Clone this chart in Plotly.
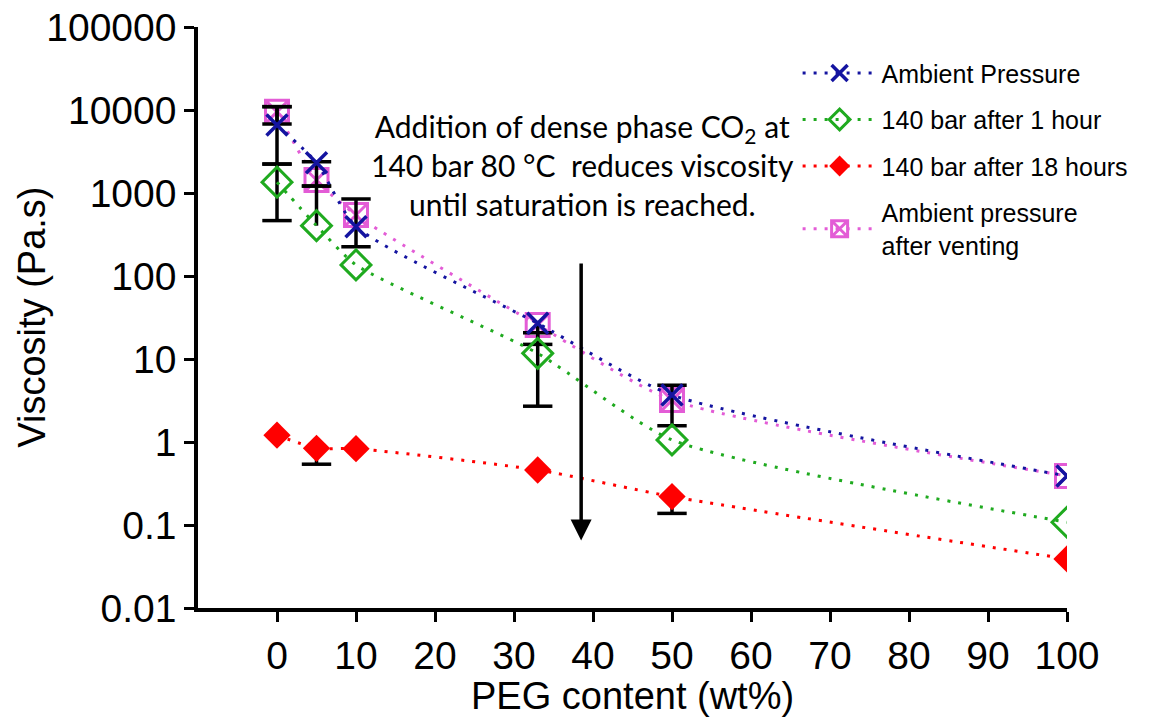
import math
import plotly.graph_objects as go

# ---- data ----
peg = [0, 5, 10, 33, 50, 100]

ambient = [6600, 2320, 393, 26.9, 3.68, 0.39]
ambient_hi = [10970, 2380, None, None, None, None]
ambient_lo = [2230, 1213, None, 15.0, None, None]

bar1h = [1350, 404, 136, 11.7, 1.06, 0.108]
bar1h_hi = [2235, 1213, None, 20.7, None, None]
bar1h_lo = [465, None, None, 2.7, None, None]

bar18h = [1.21, 0.84, 0.83, 0.46, 0.22, 0.039]
bar18h_hi = [None, None, None, None, None, None]
bar18h_lo = [None, 0.54, None, None, 0.138, None]

vented = [9500, 1436, 543, 25.7, 3.2, 0.39]
vented_hi = [10970, None, 847, None, 4.83, None]
vented_lo = [6780, None, 225, None, 1.57, None]

names = ["Ambient Pressure", "140 bar after 1 hour", "140 bar after 18 hours",
         "Ambient pressure<br>after venting"]
y_tickvals = [0.01, 0.1, 1, 10, 100, 1000, 10000, 100000]
y_ticktext = ["0.01", "0.1", "1", "10", "100", "1000", "10000", "100000"]
x_tickvals = [0, 10, 20, 30, 40, 50, 60, 70, 80, 90, 100]
x_title = "PEG content (wt%)"
y_title = "Viscosity (Pa.s)"

annotation_text = ("Addition of dense phase CO<sub>2</sub> at<br>"
                   "140 bar 80 °C  reduces viscosity<br>until saturation is reached.")
arrow_x = 38.5
arrow_top = 150
arrow_bottom = 0.065

BLUE = "#1414A0"
GREEN = "#1FAA1F"
RED = "#FF0000"
PINK = "#E35CD6"
DASH = "3px,8px"
AXFONT = "Liberation Sans, Arial, sans-serif"

fig = go.Figure()


def series(y, name, color, symbol, size, lw, rank):
    return go.Scatter(
        x=peg, y=y, name=name, mode="lines+markers",
        legendrank=rank, legendgroup=name,
        line=dict(color=color, width=3, dash=DASH, shape="spline", smoothing=0.6),
        marker=dict(symbol=symbol, size=size, color=color,
                    line=dict(color=color, width=lw)),
    )


def error_traces(y, hi, lo):
    seg_x, seg_y, cap_x, cap_y = [], [], [], []
    for xv, yv, h, l in zip(peg, y, hi, lo):
        if h is None and l is None:
            continue
        top = h if h is not None else yv
        bot = l if l is not None else yv
        seg_x += [xv, xv, None]
        seg_y += [bot, top, None]
        for c in (h, l):
            if c is not None:
                cap_x.append(xv)
                cap_y.append(c)
    return [
        go.Scatter(x=seg_x, y=seg_y, mode="lines", showlegend=False, hoverinfo="skip",
                   line=dict(color="black", width=3.5)),
        go.Scatter(x=cap_x, y=cap_y, mode="markers", showlegend=False, hoverinfo="skip",
                   marker=dict(symbol="line-ew-open", size=21, color="black",
                               line=dict(color="black", width=3.5))),
    ]


fig.add_trace(series(vented, names[3], PINK, "square-x-open", 23, 3, 4))
for yy, hh, ll in [(ambient, ambient_hi, ambient_lo), (bar1h, bar1h_hi, bar1h_lo),
                   (bar18h, bar18h_hi, bar18h_lo), (vented, vented_hi, vented_lo)]:
    for t in error_traces(yy, hh, ll):
        fig.add_trace(t)
fig.add_trace(series(bar1h, names[1], GREEN, "diamond-open", 23, 3, 2))
fig.add_trace(series(bar18h, names[2], RED, "diamond", 21, 0, 3))
fig.add_trace(series(ambient, names[0], BLUE, "x-thin-open", 21, 3.5, 1))

# explanatory note
fig.add_annotation(
    x=0.442, y=0.7625, xref="paper", yref="paper", showarrow=False,
    xanchor="center", yanchor="middle",
    text=annotation_text, align="center",
    font=dict(family="Lato, Open Sans, sans-serif", size=30, color="black"),
)
# downward arrow
fig.add_annotation(
    x=arrow_x, y=math.log10(arrow_bottom), xref="x", yref="y",
    ax=arrow_x, ay=math.log10(arrow_top), axref="x", ayref="y",
    showarrow=True, arrowhead=2, arrowsize=1.2, arrowwidth=3.5, arrowcolor="black",
    text=" ", font=dict(size=1),
)
# axis titles
fig.add_annotation(
    x=-0.192, y=0.5, xref="paper", yref="paper", showarrow=False,
    xanchor="center", yanchor="middle", textangle=-90,
    text=y_title, font=dict(family=AXFONT, size=38, color="black"),
)
fig.add_annotation(
    x=0.5, y=-0.1515, xref="paper", yref="paper", showarrow=False,
    xanchor="center", yanchor="middle",
    text=x_title, font=dict(family=AXFONT, size=38, color="black"),
)

fig.update_layout(
    width=1149, height=720,
    margin=dict(l=198, r=82, t=27, b=112, autoexpand=False),
    paper_bgcolor="white", plot_bgcolor="white",
    showlegend=True,
    legend=dict(x=0.69, y=0.96, xanchor="left", yanchor="top",
                font=dict(family=AXFONT, size=25, color="black"),
                bgcolor="rgba(0,0,0,0)", tracegroupgap=11, itemwidth=74),
    xaxis=dict(
        range=[-10, 100], tickvals=x_tickvals, showgrid=False, zeroline=False,
        showline=True, linecolor="black", linewidth=3.5, automargin=False,
        ticks="outside", ticklen=10, tickwidth=3, tickcolor="black",
        tickfont=dict(family=AXFONT, size=39, color="black"),
    ),
    yaxis=dict(
        type="log", range=[-2, 5], tickvals=y_tickvals, ticktext=y_ticktext,
        showgrid=False, zeroline=False, automargin=False,
        showline=True, linecolor="black", linewidth=3.5,
        ticks="outside", ticklen=10, tickwidth=3, tickcolor="black",
        tickfont=dict(family=AXFONT, size=39, color="black"),
    ),
)

fig.write_html("out.html")
